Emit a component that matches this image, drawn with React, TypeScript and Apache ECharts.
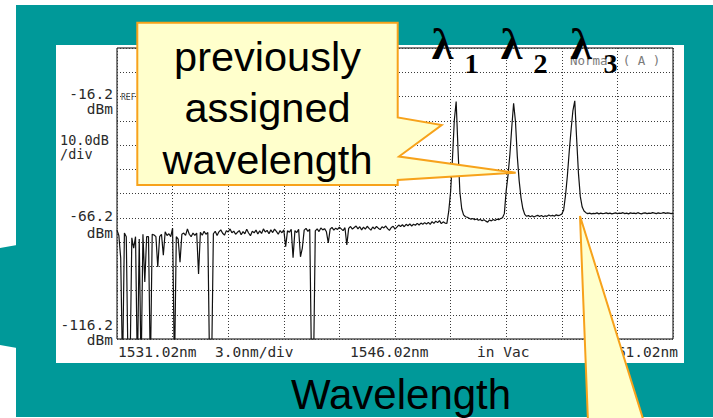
import React, { useEffect, useRef } from "react";
import * as echarts from "echarts";

// ---- data ----
const START_NM = 1531.02;
const STEP_NM = 0.1;
// measured power in dBm, one value per 0.1 nm from 1531.02 nm to 1561.02 nm
const powerDbm: number[] = [
  -71.3, -73.5, -82.8, -130, -72.5, -74, -130, -130, -74.5, -78.7,
  -74, -130, -75, -130, -73, -92.7, -74, -74, -130, -73,
  -73.3, -74, -86.5, -74, -73, -81.6, -72, -73.5, -72.8, -74,
  -70.5, -130, -74, -75, -84.5, -73, -72.5, -73.5, -70.8, -73,
  -74, -72.5, -73.5, -72.5, -89.4, -72.2, -73.4, -71.8, -73, -72.3,
  -130, -130, -72.8, -71.8, -73.5, -72, -71.2, -72.6, -73.4, -71.5,
  -72.1, -70.8, -72.4, -71.7, -73, -72.2, -71.5, -73.2, -71.9, -72.8,
  -70.9, -72.5, -73.6, -71.8, -72.4, -71.3, -72.9, -71.6, -72.7, -70.8,
  -72.1, -71.4, -72.8, -71.2, -72.3, -70.9, -71.8, -73, -71.5, -72.4,
  -71.2, -78.1, -71.6, -72.2, -71, -82.7, -71.5, -72.3, -71, -82.3,
  -78.7, -71.3, -70.6, -71.8, -70.9, -130, -130, -71.6, -70.8, -71.9,
  -70.4, -71.2, -70.7, -72, -76.6, -70.9, -70.2, -71.3, -70.5, -71,
  -70.1, -70.8, -71.5, -70.3, -77.4, -70.6, -69.8, -70.9, -70.2, -69.6,
  -70.8, -69.9, -71.2, -70.1, -70.9, -69.7, -70.6, -71.3, -70, -70.8,
  -69.8, -70.5, -71.1, -69.9, -70.4, -69.6, -70.7, -71.4, -70.2, -69.7,
  -70.9, -70.1, -69.2, -69.8, -69.1, -69.9, -68.9, -69.5, -68.7, -69.6,
  -68.9, -69.3, -68.5, -69.2, -68.4, -68.9, -68.2, -68.8, -68.1, -68.9,
  -67.8, -68.5, -67.6, -68.2, -67.4, -68.6, -67.9, -68.4, -68.5, -63.5,
  -55.5, -42, -26, -18.3, -38, -55.5, -62.5, -65, -65.8, -66,
  -66.4, -66.8, -66.5, -67, -66.7, -67.2, -66.9, -67.4, -67, -67.6,
  -68, -67.1, -67.5, -66.9, -67.3, -66.8, -67, -66.5, -66.2, -64.5,
  -55, -48.5, -40, -29, -19, -26.5, -41, -51, -58, -62.5,
  -64.8, -65.6, -65.3, -65.8, -65.4, -65.9, -65.5, -65.2, -65.7, -65.3,
  -65.8, -65.4, -65.6, -65.1, -65.5, -65.2, -65.6, -65, -65.3, -65.1,
  -64.7, -63, -57, -49, -39, -30, -22, -18, -33.5, -48,
  -57.5, -61.8, -63.4, -64.1, -64.5, -64.3, -64.6, -64.4, -64.5, -64.2,
  -64.6, -64.3, -64.5, -64.4, -64.2, -64.5, -64.3, -64.6, -64.4, -64.2,
  -64.5, -64.3, -64.4, -64.1, -64.5, -64.3, -64.6, -64.2, -64.4, -64.3,
  -64.5, -64.1, -64.4, -64.6, -64.3, -64.2, -64.5, -64.3, -64.4, -64.1,
  -64.3, -64.5, -64.2, -64.4, -64.3, -64.1, -64.4, -64.2, -64.3, -64.5, -64.3,
];
const wavelengthsNm: number[] = powerDbm.map((_, i) => Math.round((START_NM + i * STEP_NM) * 100) / 100);

const X_MIN = 1531.02;
const X_MAX = 1561.02;
const X_STEP = 3;
const Y_MIN = -116.2;
const Y_MAX = 3.8;
const Y_STEP = 10;

const yTickLabels = ["-16.2", "-66.2", "-116.2"];
const yUnitLabel = "dBm";
const xTickLabels = ["1531.02nm", "1546.02nm", "1561.02nm"];
const scaleLabel = "10.0dB";
const scaleLabel2 = "/div";
const spanLabel = "3.0nm/div";
const vacLabel = "in Vac";
const modeLabel = "Normal ( A )";
const peakNames = ["1", "2", "3"];
const calloutLines = ["previously", "assigned", "wavelength"];
const bottomTitle = "Wavelength";

const TEAL = "#009999";
const YELLOW = "#FFFFCC";
const ORANGE = "#F7A21B";
const MONO = "'DejaVu Sans Mono', 'Liberation Mono', monospace";
const SANS = "'Liberation Sans', Arial, sans-serif";
const SERIF = "'Liberation Serif', 'Times New Roman', serif";

function txt(text: string, x: number, y: number, opts: any = {}) {
  const align = opts.align || "left";
  const valign = opts.valign || "middle";
  const style: any = {
    text,
    fill: opts.fill || "#2a2a2a",
    fontSize: opts.size || 14.5,
    fontFamily: opts.family || MONO,
    fontWeight: opts.weight || "normal",
    align,
    textAlign: align,
    verticalAlign: valign,
    textVerticalAlign: valign,
  };
  if (opts.lineHeight) style.lineHeight = opts.lineHeight;
  return { type: "text", x, y, z: opts.z ?? 1, silent: true, style };
}

export default function App() {
  const ref = useRef<HTMLDivElement>(null);

  useEffect(() => {
    if (!ref.current) return;
    const chart = echarts.init(ref.current, undefined, { renderer: "svg", width: 713, height: 418 });

    const trace = wavelengthsNm.map((w, i) => [w, powerDbm[i]]);

    const splitStyle = { show: true, lineStyle: { color: "#3a3a3a", width: 1, type: [1, 2] } };

    const graphic: any[] = [
      // slide background
      { type: "rect", z: -3, silent: true, shape: { x: 16, y: 5, width: 697, height: 412 }, style: { fill: TEAL } },
      { type: "polygon", z: -3, silent: true, shape: { points: [[0, 248], [17, 245], [17, 348], [0, 345]] }, style: { fill: TEAL } },
      // white instrument panel
      { type: "rect", z: -2, silent: true, shape: { x: 56, y: 45, width: 628, height: 318 }, style: { fill: "#ffffff" } },
      // y labels
      txt(yTickLabels[0], 113, 94, { align: "right" }),
      txt(yUnitLabel, 113, 109, { align: "right" }),
      txt(yTickLabels[1], 113, 216, { align: "right" }),
      txt(yUnitLabel, 113, 233, { align: "right" }),
      txt(yTickLabels[2], 113, 325, { align: "right" }),
      txt(yUnitLabel, 113, 340, { align: "right" }),
      txt(scaleLabel, 60, 140, { size: 13.5 }),
      txt(scaleLabel2, 60, 154, { size: 13.5 }),
      txt("REF", 121, 97, { size: 8, fill: "#444" }),
      // x labels
      txt(xTickLabels[0], 118, 352),
      txt(spanLabel, 215, 352),
      txt(xTickLabels[1], 350, 352),
      txt(vacLabel, 477, 352),
      txt(xTickLabels[2], 678, 352, { align: "right" }),
      txt(modeLabel, 570, 60, { size: 12.5, fill: "#7a7a7a" }),
      // lambda labels
      txt("λ", 442.5, 44, { family: SERIF, size: 44, weight: "bold", fill: "#000", align: "center", z: 8 }),
      txt(peakNames[0], 471.5, 63, { family: SERIF, size: 28, weight: "bold", fill: "#000", align: "center", z: 8 }),
      txt("λ", 511.5, 44, { family: SERIF, size: 44, weight: "bold", fill: "#000", align: "center", z: 8 }),
      txt(peakNames[1], 540.5, 63, { family: SERIF, size: 28, weight: "bold", fill: "#000", align: "center", z: 8 }),
      txt("λ", 581, 44, { family: SERIF, size: 44, weight: "bold", fill: "#000", align: "center", z: 8 }),
      txt(peakNames[2], 610.5, 63, { family: SERIF, size: 28, weight: "bold", fill: "#000", align: "center", z: 8 }),
      // callout
      {
        type: "polygon",
        z: 10,
        silent: true,
        shape: {
          points: [
            [137.3, 22.7], [397.7, 22.7], [397.7, 117.5], [441.7, 125], [399, 156.5],
            [515.7, 172.7], [397.7, 180], [397.7, 185], [137.3, 185],
          ],
        },
        style: { fill: YELLOW, stroke: ORANGE, lineWidth: 2, lineJoin: "miter" },
      },
      txt(calloutLines[0], 267.5, 56, { family: SANS, size: 41.5, fill: "#000", align: "center", z: 11 }),
      txt(calloutLines[1], 267.5, 107.5, { family: SANS, size: 41.5, fill: "#000", align: "center", z: 11 }),
      txt(calloutLines[2], 267.5, 159, { family: SANS, size: 41.5, fill: "#000", align: "center", z: 11 }),
      // lower pointer
      {
        type: "polygon",
        z: 10,
        silent: true,
        shape: { points: [[580, 216], [644, 422], [588, 422]] },
        style: { fill: YELLOW, stroke: ORANGE, lineWidth: 2 },
      },
      txt(bottomTitle, 401, 394, { family: SANS, size: 42, fill: "#000", align: "center", z: 5 }),
    ];

    chart.setOption({
      animation: false,
      backgroundColor: "#ffffff",
      grid: {
        left: 117,
        top: 48,
        width: 556,
        height: 291,
        show: true,
        borderColor: "#000",
        borderWidth: 1,
        backgroundColor: "transparent",
        containLabel: false,
      },
      xAxis: {
        type: "value",
        min: X_MIN,
        max: X_MAX,
        interval: X_STEP,
        axisLine: { show: false },
        axisTick: { show: false },
        axisLabel: { show: false },
        splitLine: splitStyle,
      },
      yAxis: {
        type: "value",
        min: Y_MIN,
        max: Y_MAX,
        interval: Y_STEP,
        axisLine: { show: false },
        axisTick: { show: false },
        axisLabel: { show: false },
        splitLine: splitStyle,
      },
      series: [
        {
          type: "line",
          data: trace,
          showSymbol: false,
          symbol: "none",
          clip: true,
          silent: true,
          z: 3,
          lineStyle: { color: "#111", width: 1.2 },
        },
      ],
      graphic,
    });

    return () => chart.dispose();
  }, []);

  return (
    <div
      ref={ref}
      style={{ position: "absolute", left: 0, top: 0, width: 713, height: 418 }}
    />
  );
}
